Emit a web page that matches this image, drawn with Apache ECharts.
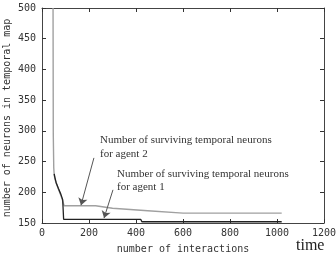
<!DOCTYPE html>
<html>
<head>
<meta charset="utf-8">
<script src="https://cdn.jsdelivr.net/npm/echarts@6/dist/echarts.min.js"></script>
<style>
  html, body { margin: 0; padding: 0; background: #fff; }
  #main { width: 336px; height: 254px; }
</style>
</head>
<body>
<div id="main"></div>
<script>
// data
var xTicks = [0, 200, 400, 600, 800, 1000, 1200];
var yTicks = [150, 200, 250, 300, 350, 400, 450, 500];
var agent2T = [47, 48, 50, 52, 55, 60, 70, 80, 88, 94, 228, 236, 300, 450, 600, 1020];
var agent2V = [500, 295, 240, 228, 222, 215, 205, 195, 186, 178, 178, 175, 174, 170, 166, 166];
var agent1T = [52, 55, 60, 70, 80, 88, 92, 420, 425, 1020];
var agent1V = [230, 224, 216, 206, 197, 188, 156, 156, 152, 152];
// arrow ends, in data units
var arrow2 = [[221, 256], [166, 179]];
var arrow1 = [[302, 204], [264, 158]];

function pairs(t, v) {
  var out = [];
  for (var i = 0; i < t.length; i++) out.push([t[i], v[i]]);
  return out;
}

var mono = 'DejaVu Sans Mono';
function frame() { return { show: true, onZero: false, lineStyle: { color: '#444', width: 1 } }; }
function tickIn() { return { show: true, inside: true, length: 4, lineStyle: { color: '#333', width: 1 } }; }
var plain = function (v) { return String(v); };

var myChart = echarts.init(document.getElementById('main'));
var option = {
  animation: false,
  grid: { left: 42, right: 12, top: 8, bottom: 31, outerBoundsMode: 'none', containLabel: false },
  xAxis: [{
    type: 'value', min: 0, max: 1200, interval: 200, position: 'bottom',
    axisLine: frame(), axisTick: tickIn(), splitLine: { show: false },
    axisLabel: { fontFamily: mono, fontSize: 10, color: '#333', margin: 5, formatter: plain },
    name: 'number of interactions', nameLocation: 'middle', nameGap: 21,
    nameTextStyle: { fontFamily: mono, fontSize: 10, color: '#333' }
  }, {
    type: 'value', min: 0, max: 1200, interval: 200, position: 'top',
    axisLine: frame(), axisTick: tickIn(), axisLabel: { show: false }, splitLine: { show: false }
  }],
  yAxis: [{
    type: 'value', min: 150, max: 500, interval: 50, position: 'left',
    axisLine: frame(), axisTick: tickIn(), splitLine: { show: false },
    axisLabel: { fontFamily: mono, fontSize: 10, color: '#333', margin: 6, formatter: plain }
  }, {
    type: 'value', min: 150, max: 500, interval: 50, position: 'right',
    axisLine: frame(), axisTick: tickIn(), axisLabel: { show: false }, splitLine: { show: false }
  }],
  graphic: [
    { type: 'text', x: 7, y: 118, rotation: Math.PI / 2,
      style: { text: 'number of neurons in temporal map', font: '10px "DejaVu Sans Mono"', fill: '#333',
               align: 'center', verticalAlign: 'middle' } },
    { type: 'text', left: 296, top: 238,
      style: { text: 'time', font: '16px "Liberation Serif"', fill: '#222' } },
    { type: 'text', left: 100, top: 133,
      style: { text: 'Number of surviving temporal neurons\nfor agent 2', font: '11px "Liberation Serif"', fill: '#333', lineHeight: 14 } },
    { type: 'text', left: 117, top: 168,
      style: { text: 'Number of surviving temporal neurons\nfor agent 1', font: '11px "Liberation Serif"', fill: '#333', lineHeight: 13 } }
  ],
  series: [
    {
      name: 'agent 2', type: 'line', showSymbol: false, data: pairs(agent2T, agent2V),
      lineStyle: { color: '#a0a0a0', width: 1.4 }, z: 2,
      markLine: {
        silent: true, symbol: ['none', 'arrow'], symbolSize: 7, label: { show: false },
        lineStyle: { color: '#555', width: 1, type: 'solid' },
        data: [
          [{ coord: arrow2[0] }, { coord: arrow2[1] }],
          [{ coord: arrow1[0] }, { coord: arrow1[1] }]
        ]
      }
    },
    {
      name: 'agent 1', type: 'line', showSymbol: false, data: pairs(agent1T, agent1V),
      lineStyle: { color: '#222', width: 1.3 }, z: 3
    }
  ]
};
myChart.setOption(option);
</script>
</body>
</html>
